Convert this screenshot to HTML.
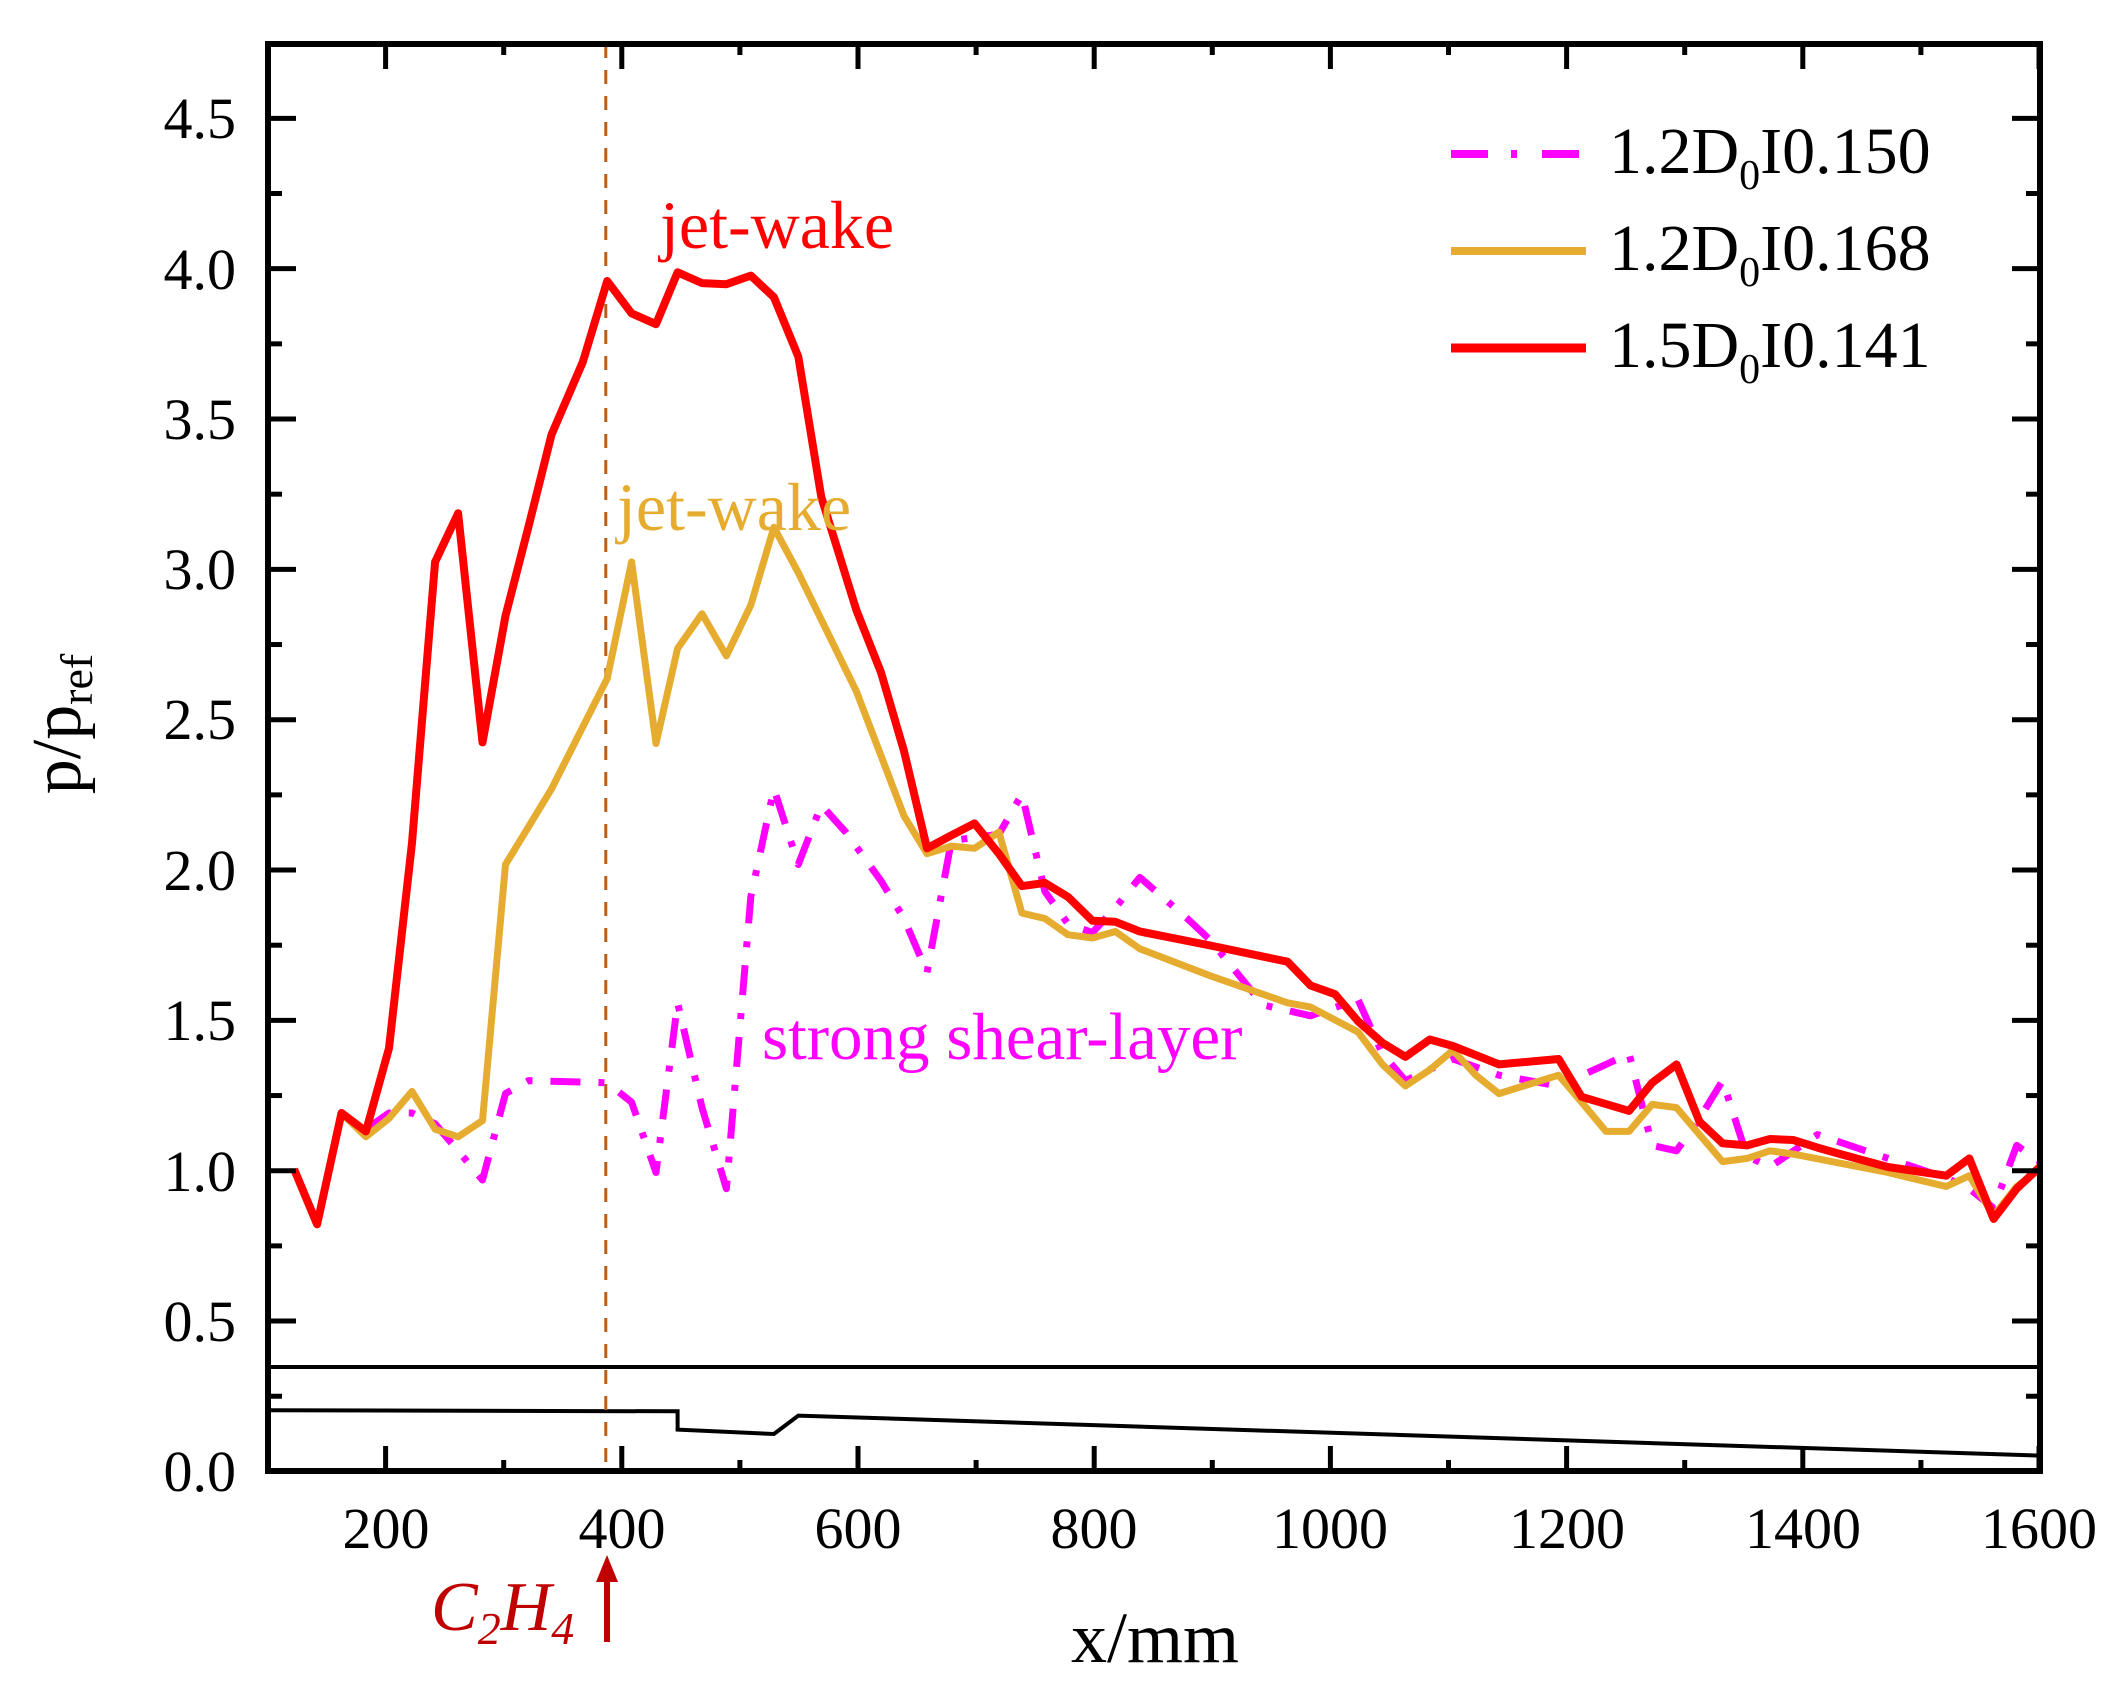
<!DOCTYPE html>
<html><head><meta charset="utf-8"><style>
html,body{margin:0;padding:0;background:#fff}
svg{display:block}
text{font-family:"Liberation Serif",serif}
</style></head><body>
<svg id="s" width="2125" height="1694" viewBox="0 0 2125 1694" xmlns="http://www.w3.org/2000/svg">
<rect width="2125" height="1694" fill="#fff"/>
<g id="plot"></g>
<g id="ticks" stroke="#000" stroke-width="5"></g>
<rect x="268" y="44" width="1772" height="1427" fill="none" stroke="#000" stroke-width="6"/>
<g font-size="58" text-anchor="end" fill="#000">
<text x="236" y="1491">0.0</text>
<text x="236" y="1341">0.5</text>
<text x="236" y="1191">1.0</text>
<text x="236" y="1040">1.5</text>
<text x="236" y="890">2.0</text>
<text x="236" y="739">2.5</text>
<text x="236" y="589">3.0</text>
<text x="236" y="439">3.5</text>
<text x="236" y="289">4.0</text>
<text x="236" y="138">4.5</text>
</g>
<g font-size="58" text-anchor="middle" fill="#000">
<text x="386" y="1548">200</text>
<text x="622" y="1548">400</text>
<text x="858" y="1548">600</text>
<text x="1094" y="1548">800</text>
<text x="1330" y="1548">1000</text>
<text x="1567" y="1548">1200</text>
<text x="1803" y="1548">1400</text>
<text x="2039" y="1548">1600</text>
</g>
<text x="1155" y="1662" font-size="72" text-anchor="middle">x/mm</text>
<text transform="translate(80,724) rotate(-90)" font-size="70" text-anchor="middle">p/p<tspan font-size="46" dy="12">ref</tspan></text>
<text x="431" y="1630" font-size="70" font-style="italic" fill="#c00000">C<tspan font-size="46" dy="14">2</tspan><tspan dy="-14">H</tspan><tspan font-size="46" dy="14">4</tspan></text>
<line x1="607" y1="1642" x2="607" y2="1580" stroke="#c00000" stroke-width="6"/>
<polygon points="596,1582 618,1582 607,1555" fill="#c00000"/>
<text x="660" y="248" font-size="68" fill="#ff0000">jet-wake</text>
<text x="617" y="530" font-size="68" fill="#e6ac2f">jet-wake</text>
<text x="762" y="1059" font-size="67" fill="#ff00ff">strong shear-layer</text>
<line x1="1451" y1="154" x2="1586" y2="154" stroke="#ff00ff" stroke-width="8" stroke-dasharray="37 23 6 25"/>
<line x1="1451" y1="251" x2="1586" y2="251" stroke="#e6ac2f" stroke-width="8"/>
<line x1="1451" y1="348" x2="1586" y2="348" stroke="#ff0000" stroke-width="9"/>
<g font-size="66" fill="#000">
<text x="1609" y="173">1.2D<tspan font-size="42" dy="16">0</tspan><tspan dy="-16">I0.150</tspan></text>
<text x="1609" y="270">1.2D<tspan font-size="42" dy="16">0</tspan><tspan dy="-16">I0.168</tspan></text>
<text x="1609" y="367">1.5D<tspan font-size="42" dy="16">0</tspan><tspan dy="-16">I0.141</tspan></text>
</g>
</svg>
<script>
var sx=1.3553, sy=1.0806;
function P(a){var o=[];for(var i=0;i<a.length;i+=2)o.push((a[i]*sx).toFixed(1)+","+(a[i+1]*sy).toFixed(1));return o.join(" ");}
var red=[217,1082,234,1133,252,1030,270,1047,287,970,304,780,321,520,338,475,356,687,373,570,390,487,407,402,430,335,448,260,466,290,484,300,500,252,518,262,536,263,554,255,571,275,589,330,606,460,632,565,650,622,667,695,684,785,702,773,719,762,737,790,754,820,771,817,788,830,806,852,823,853,841,862,893,875,950,890,967,912,985,920,1002,945,1020,965,1037,978,1055,962,1072,968,1106,985,1150,980,1167,1015,1202,1028,1219,1002,1237,985,1254,1038,1271,1058,1289,1060,1306,1054,1323,1055,1341,1062,1358,1068,1393,1080,1436,1088,1453,1072,1471,1128,1488,1100,1505,1080];
var gold=[252,1030,270,1052,287,1035,304,1010,321,1045,338,1052,356,1037,373,800,390,765,407,730,448,628,466,520,484,688,500,600,518,568,536,607,554,560,571,488,589,530,632,640,667,755,684,790,702,783,719,785,737,770,754,845,771,850,788,865,806,868,823,862,841,878,893,903,950,928,967,932,1002,955,1020,985,1037,1005,1055,990,1072,972,1089,995,1106,1012,1124,1005,1150,995,1167,1020,1185,1047,1202,1047,1219,1022,1237,1025,1254,1050,1271,1075,1289,1072,1306,1065,1323,1068,1393,1085,1436,1098,1453,1088,1471,1125,1488,1098,1505,1082];
var mag=[270,1045,287,1030,304,1030,321,1040,338,1065,356,1092,373,1012,390,1000,448,1002,466,1020,484,1085,500,928,518,1025,536,1100,554,830,571,730,589,800,606,745,624,770,650,815,667,850,684,900,702,778,719,775,737,772,754,735,771,825,788,855,806,863,823,840,841,812,876,850,893,870,932,930,967,940,1002,925,1020,975,1037,1000,1072,980,1106,995,1150,1005,1185,985,1202,975,1219,1060,1237,1065,1254,1035,1271,1000,1289,1070,1306,1080,1341,1050,1393,1072,1436,1090,1453,1100,1471,1118,1488,1060,1505,1075];
var prof=[198,1305,500,1306,500,1323,571,1327,589,1310,1505,1347];
var g=document.getElementById("plot"),h="";
h+='<line x1="268" y1="'+(1265*sy).toFixed(1)+'" x2="2040" y2="'+(1265*sy).toFixed(1)+'" stroke="#000" stroke-width="4"/>';
h+='<polyline points="'+P(prof)+'" fill="none" stroke="#000" stroke-width="4"/>';
h+='<line x1="'+(447*sx).toFixed(1)+'" y1="44" x2="'+(447*sx).toFixed(1)+'" y2="1471" stroke="#b8601a" stroke-width="3" stroke-dasharray="14 12"/>';
h+='<polyline points="'+P(mag)+'" fill="none" stroke="#ff00ff" stroke-width="7" stroke-dasharray="30 18 6 18" stroke-linejoin="round"/>';
h+='<polyline points="'+P(gold)+'" fill="none" stroke="#e6ac2f" stroke-width="7" stroke-linejoin="round"/>';
h+='<polyline points="'+P(red)+'" fill="none" stroke="#ff0000" stroke-width="8" stroke-linejoin="round"/>';
g.innerHTML=h;
var t="",k;
for(k=0;k<=7;k++){var x=385.6+k*236.2;t+='<line x1="'+x+'" y1="1471" x2="'+x+'" y2="1446"/><line x1="'+x+'" y1="44" x2="'+x+'" y2="69"/>';}
for(k=0;k<7;k++){var x=503.7+k*236.2;t+='<line x1="'+x+'" y1="1471" x2="'+x+'" y2="1460"/><line x1="'+x+'" y1="44" x2="'+x+'" y2="55"/>';}
for(k=0;k<=18;k++){var y=1471.4-k*75.17;var L=(k%2==0)?28:14;if(k==0)continue;t+='<line x1="268" y1="'+y+'" x2="'+(268+L)+'" y2="'+y+'"/><line x1="2040" y1="'+y+'" x2="'+(2040-L)+'" y2="'+y+'"/>';}
document.getElementById("ticks").innerHTML=t;
</script>
</body></html>
